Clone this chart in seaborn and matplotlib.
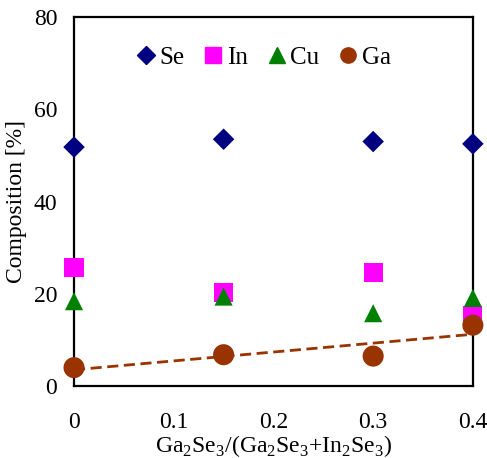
import numpy as np
import pandas as pd
import matplotlib
matplotlib.use("Agg")
import matplotlib.pyplot as plt
import seaborn as sns

# data
ratio = [0.0, 0.15, 0.3, 0.4]
se = [51.8, 53.5, 53.0, 52.5]
in_ = [25.7, 20.2, 24.7, 15.3]
cu = [18.4, 19.4, 15.8, 19.1]
ga = [4.0, 6.8, 6.5, 13.2]
elements = ["Se", "In", "Cu", "Ga"]

colors = {"Se": "#000080", "In": "#FF00FF", "Cu": "#008000", "Ga": "#993300"}
markers = {"Se": "D", "In": "s", "Cu": "^", "Ga": "o"}
sizes = {"Se": 120, "In": 190, "Cu": 170, "Ga": 230}

df = pd.DataFrame({
    "x": ratio * 4,
    "y": se + in_ + cu + ga,
    "el": np.repeat(elements, len(ratio)),
})

sns.set_style("white")
plt.rcParams["font.family"] = ["Liberation Serif", "DejaVu Serif"]
plt.rcParams["mathtext.fontset"] = "custom"
plt.rcParams["mathtext.rm"] = "Liberation Serif"
for key in ["text.color", "axes.labelcolor", "xtick.color", "ytick.color"]:
    plt.rcParams[key] = "black"

fig = plt.figure(figsize=(4.87, 4.58), dpi=100)
ax = fig.add_axes([0.152, 0.157, 0.819, 0.806])

for el in elements:
    sub = df[df["el"] == el]
    sns.scatterplot(data=sub, x="x", y="y", color=colors[el], marker=markers[el],
                    s=sizes[el], edgecolor="none", ax=ax, clip_on=False, zorder=3)

# linear trend for Ga
k, b = np.polyfit(ratio, ga, 1)
xs = np.array([0, 0.4])
ax.plot(xs, k * xs + b, ls=(0, (4, 2)), color="#993300", lw=2, zorder=2)

ax.set_xlim(0, 0.4)
ax.set_ylim(0, 80)
ax.set_xticks([0, 0.1, 0.2, 0.3, 0.4])
ax.set_xticklabels(["0", "0.1", "0.2", "0.3", "0.4"])
ax.set_yticks([0, 20, 40, 60, 80])
ax.tick_params(direction="in", length=6, width=1, labelsize=17, color="black")
ax.tick_params(axis="x", pad=19)
ax.tick_params(axis="y", pad=12)
for sp in ax.spines.values():
    sp.set_color("black")
    sp.set_linewidth(1.6)

ax.set_xlabel(r"Ga$_2$Se$_3$/(Ga$_2$Se$_3$+In$_2$Se$_3$)", fontsize=17, labelpad=0)
ax.set_ylabel("Composition [%]", fontsize=17, labelpad=5)

handles = [plt.Line2D([], [], ls="none", marker=markers[e], color=colors[e],
                      markersize={"Se": 9, "In": 11, "Cu": 11, "Ga": 11}[e]) for e in elements]
ax.legend(handles, elements, loc="center", bbox_to_anchor=(0.47, 0.89), ncol=4,
          frameon=False, fontsize=18, handletextpad=0.0, columnspacing=0.6,
          handlelength=1.1)

fig.savefig("out.png", dpi=100)
